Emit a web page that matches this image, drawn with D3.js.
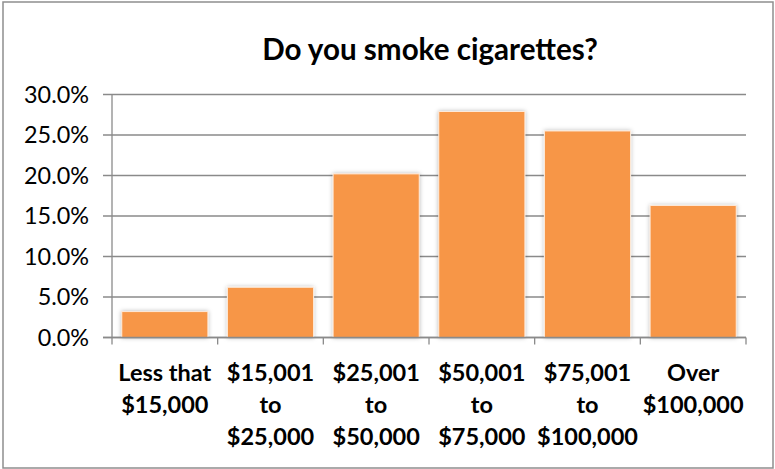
<!DOCTYPE html>
<html><head><meta charset="utf-8">
<script src="https://cdn.jsdelivr.net/npm/d3@7"></script>
<style>html,body{margin:0;padding:0;background:#fff;}svg{display:block;}</style>
</head><body>
<script>
const title = "Do you smoke cigarettes?";
const categories = ["Less that $15,000", "$15,001 to $25,000", "$25,001 to $50,000", "$50,001 to $75,000", "$75,001 to $100,000", "Over $100,000"];
const values = [3.2, 6.2, 20.2, 27.9, 25.5, 16.3];
const yTicks = [0, 5, 10, 15, 20, 25, 30];

const W = 775, H = 469;
const m = {left: 112, right: 29, top: 94.5, bottom: 131.5};
const FONT = "Lato, 'Open Sans', 'DejaVu Sans', sans-serif";

const svg = d3.select("body").append("svg").attr("width", W).attr("height", H);
const defs = svg.append("defs");
const f = defs.append("filter").attr("id", "sh").attr("x", "-20%").attr("y", "-20%").attr("width", "140%").attr("height", "140%");
f.append("feDropShadow").attr("dx", 0).attr("dy", 0).attr("stdDeviation", 2).attr("flood-color", "#000").attr("flood-opacity", 0.28);

svg.append("rect").attr("x", 3).attr("y", 2).attr("width", 770).attr("height", 466)
  .attr("fill", "#fff").attr("stroke", "#8e8e8e").attr("stroke-width", 1.5);

const x = d3.scaleBand().domain(categories).range([m.left, W - m.right]).paddingInner(0.185).paddingOuter(0.0925);
const y = d3.scaleLinear().domain([0, 30]).range([H - m.bottom, m.top]);

// gridlines
svg.append("g").selectAll("line").data(yTicks).join("line")
  .attr("x1", m.left - 9).attr("x2", W - m.right)
  .attr("y1", d => y(d)).attr("y2", d => y(d))
  .attr("stroke", "#8a8a8a").attr("stroke-width", 1.3);

// y axis line
svg.append("line").attr("x1", m.left).attr("x2", m.left).attr("y1", y(30)).attr("y2", y(0) + 7)
  .attr("stroke", "#8a8a8a").attr("stroke-width", 1.3);

// category ticks at band edges
const edges = categories.map(c => x(c) - x.step() * x.paddingInner() / 2);
edges[0] = m.left;
edges.push(W - m.right);
svg.append("g").selectAll("line").data(edges.slice(1)).join("line")
  .attr("x1", d => d).attr("x2", d => d).attr("y1", y(0)).attr("y2", y(0) + 7)
  .attr("stroke", "#8a8a8a").attr("stroke-width", 1.3);

// bars
svg.append("g").selectAll("rect").data(values).join("rect")
  .attr("x", (d, i) => x(categories[i])).attr("width", x.bandwidth())
  .attr("y", d => y(d)).attr("height", d => y(0) - y(d))
  .attr("fill", "#F79646").attr("stroke", "#fde9d9").attr("stroke-width", 1)
  .attr("filter", "url(#sh)");

// redraw x axis line on top
svg.append("line").attr("x1", m.left - 9).attr("x2", W - m.right).attr("y1", y(0)).attr("y2", y(0))
  .attr("stroke", "#8a8a8a").attr("stroke-width", 1.3);

function fit(sel, target) {
  const w = sel.node().getComputedTextLength();
  const fs = parseFloat(sel.attr("font-size"));
  sel.attr("font-size", fs * target / w);
  return fs * target / w;
}

// title
const t = svg.append("text").attr("x", 430).attr("y", 60).attr("text-anchor", "middle")
  .attr("font-family", FONT).attr("font-weight", "bold").attr("font-size", 24).attr("fill", "#000").text(title);
fit(t, 336);

// y labels
const probe = svg.append("text").attr("font-family", FONT).attr("font-size", 20).text("30.0%");
const yfs = fit(probe, 65); probe.remove();
svg.append("g").selectAll("text").data(yTicks).join("text")
  .attr("x", 89).attr("y", d => y(d)).attr("dy", "0.36em").attr("text-anchor", "end")
  .attr("font-family", FONT).attr("font-size", yfs).attr("fill", "#000")
  .text(d => d.toFixed(1) + "%");

// x labels
const probe2 = svg.append("text").attr("font-family", FONT).attr("font-weight", "bold").attr("font-size", 20).text("$100,000");
const xfs = fit(probe2, 101);
function width(s) { probe2.text(s); return probe2.node().getComputedTextLength(); }
const lineYs = [381, 413, 445];
categories.forEach(c => {
  const words = c.split(" ");
  const lines = [];
  let cur = "";
  words.forEach(w => {
    const test = cur ? cur + " " + w : w;
    if (cur && width(test) > x.step()) { lines.push(cur); cur = w; } else cur = test;
  });
  lines.push(cur);
  const cx = x(c) + x.bandwidth() / 2;
  lines.forEach((l, i) => {
    svg.append("text").attr("x", cx).attr("y", lineYs[i]).attr("text-anchor", "middle")
      .attr("font-family", FONT).attr("font-weight", "bold").attr("font-size", xfs).attr("fill", "#000").text(l);
  });
});
probe2.remove();
</script>
</body></html>
